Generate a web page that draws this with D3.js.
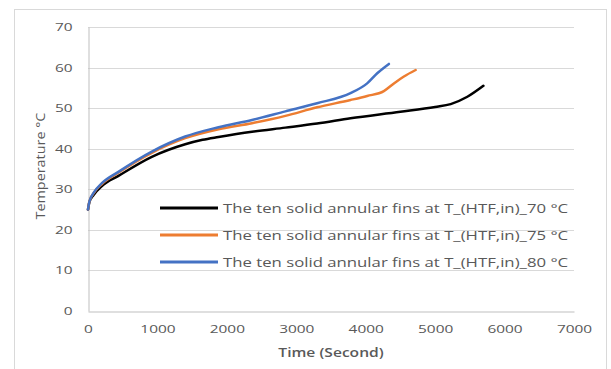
<!DOCTYPE html>
<html>
<head>
<meta charset="utf-8">
<script src="https://cdn.jsdelivr.net/npm/d3@7"></script>
<style>
  html, body { margin: 0; padding: 0; background: #fff; }
  svg { display: block; }
  text { font-family: "Open Sans", "Noto Sans", sans-serif; fill: #595959; }
</style>
</head>
<body>
<svg id="chart" width="611" height="369"></svg>
<script>
// Temperature history (°C) over time (s) for three inlet HTF temperatures
const time70 = [0, 20, 80, 200, 438, 919, 1400, 1650, 1880, 2362, 2843, 3300, 3781, 4500, 5000, 5224, 5464, 5695];
const temp70 = [25, 26.8, 28.6, 30.8, 33.3, 38.0, 41.1, 42.2, 42.9, 44.2, 45.2, 46.2, 47.5, 49.1, 50.3, 51.0, 52.8, 55.5];

const time75 = [0, 20, 80, 200, 438, 919, 1400, 1880, 2362, 2843, 3300, 3781, 4021, 4261, 4406, 4550, 4719];
const temp75 = [25, 27, 29, 31.3, 34.1, 39.0, 42.6, 44.8, 46.3, 48.1, 50.2, 52.0, 53.0, 54.2, 56.1, 57.8, 59.4];

const time80 = [0, 20, 80, 200, 438, 919, 1400, 1880, 2362, 2843, 3300, 3781, 4021, 4166, 4334];
const temp80 = [25, 27, 29.1, 31.5, 34.3, 39.3, 43.0, 45.3, 47.1, 49.2, 51.2, 53.7, 56.1, 58.6, 60.9];

const seriesNames = [
  "The ten solid annular fins at T_(HTF,in)_70 °C",
  "The ten solid annular fins at T_(HTF,in)_75 °C",
  "The ten solid annular fins at T_(HTF,in)_80 °C"
];
const seriesColors = ["#000000", "#ED7D31", "#4472C4"];

const xTicks = [0, 1000, 2000, 3000, 4000, 5000, 6000, 7000];
const yTicks = [0, 10, 20, 30, 40, 50, 60, 70];
const xTitle = "Time (Second)";
const yTitle = "Temperature °C";

const series = [
  { name: seriesNames[0], color: seriesColors[0], pts: time70.map((t, i) => [t, temp70[i]]) },
  { name: seriesNames[1], color: seriesColors[1], pts: time75.map((t, i) => [t, temp75[i]]) },
  { name: seriesNames[2], color: seriesColors[2], pts: time80.map((t, i) => [t, temp80[i]]) }
];

const svg = d3.select("#chart");
const margin = { left: 88, right: 37, top: 27, bottom: 58 };
const W = 611, H = 369;
const NUM_STRETCH = 1.4;

const x = d3.scaleLinear().domain([0, 7000]).range([margin.left, W - margin.right]);
const y = d3.scaleLinear().domain([0, 70]).range([H - margin.bottom, margin.top]);

// Outer chart frame
svg.append("rect")
  .attr("x", 14.5).attr("y", 9.5)
  .attr("width", 592).attr("height", 380)
  .attr("fill", "none").attr("stroke", "#d9d9d9").attr("stroke-width", 1);

// Horizontal grid lines
svg.append("g")
  .selectAll("line")
  .data(yTicks.filter(d => d > 0))
  .join("line")
  .attr("x1", x(0)).attr("x2", x(7000))
  .attr("y1", d => Math.round(y(d)) + 0.5).attr("y2", d => Math.round(y(d)) + 0.5)
  .attr("stroke", "#d9d9d9").attr("stroke-width", 1);

// Axes (no tick marks, gray domain lines)
const xAxis = svg.append("g")
  .attr("transform", `translate(0,${Math.round(y(0)) + 0.5})`)
  .call(d3.axisBottom(x).tickValues(xTicks).tickSize(0).tickPadding(14).tickFormat(d3.format("d")));
const yAxis = svg.append("g")
  .attr("transform", `translate(${Math.round(x(0)) + 0.5},0)`)
  .call(d3.axisLeft(y).tickValues(yTicks).tickSize(0).tickPadding(16).tickFormat(d3.format("d")));

[xAxis, yAxis].forEach(g => {
  g.select(".domain").attr("stroke", "#bfbfbf").attr("stroke-width", 1);
  g.selectAll("text")
    .style("font-family", '"Open Sans", "Noto Sans", sans-serif')
    .style("font-size", "11px")
    .attr("fill", "#595959");
});
// Wide number glyphs
xAxis.selectAll(".tick text").attr("transform", `scale(${NUM_STRETCH},1)`);
yAxis.selectAll(".tick text").each(function () {
  const el = d3.select(this);
  const xx = +el.attr("x");
  el.attr("x", xx / NUM_STRETCH).attr("transform", `scale(${NUM_STRETCH},1)`);
});

// Series lines
const line = d3.line()
  .x(d => x(d[0]))
  .y(d => y(d[1]))
  .curve(d3.curveMonotoneX);

svg.append("g")
  .selectAll("path")
  .data(series)
  .join("path")
  .attr("d", d => line(d.pts))
  .attr("fill", "none")
  .attr("stroke", d => d.color)
  .attr("stroke-width", 2.5)
  .attr("stroke-linecap", "round")
  .attr("stroke-linejoin", "round");

// Legend inside the plot area
const legend = svg.append("g").attr("transform", "translate(160,208)");
const rows = legend.selectAll("g")
  .data(series)
  .join("g")
  .attr("transform", (d, i) => `translate(0,${i * 27})`);
rows.append("line")
  .attr("x1", 0).attr("x2", 58).attr("y1", 0).attr("y2", 0)
  .attr("stroke", d => d.color).attr("stroke-width", 3);
rows.append("text")
  .attr("transform", "translate(63,4.5) scale(1.34,1)")
  .style("font-size", "12.5px")
  .text(d => d.name);

// Axis titles
svg.append("text")
  .attr("transform", "translate(331,357) scale(1.3,1)")
  .attr("text-anchor", "middle")
  .style("font-size", "12px")
  .style("font-weight", 600)
  .text(xTitle);

svg.append("text")
  .attr("transform", "translate(45,166) rotate(-90) scale(1.15,1)")
  .attr("text-anchor", "middle")
  .style("font-size", "12.5px")
  .text(yTitle);
</script>
</body>
</html>
